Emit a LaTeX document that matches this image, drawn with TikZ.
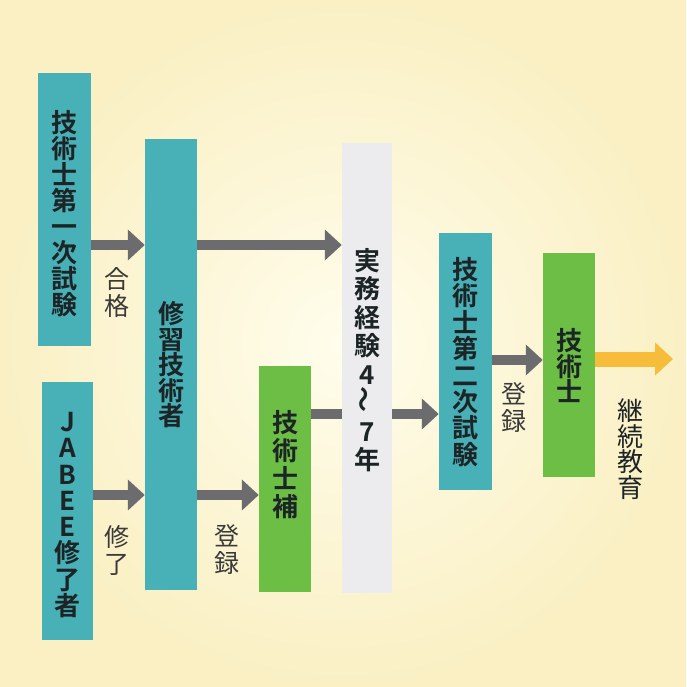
\documentclass[tikz,border=0pt]{standalone}
\usepackage{fontspec}
\usepackage{graphicx}
\newfontfamily\cjk{Noto Sans CJK JP}[BoldFont=* Bold]
\usetikzlibrary{arrows.meta}
\definecolor{tealbx}{RGB}{72,176,183}
\definecolor{greenbx}{RGB}{108,190,69}
\definecolor{graybx}{RGB}{236,236,238}
\definecolor{arrgray}{RGB}{108,108,110}
\definecolor{arryel}{RGB}{247,188,58}
\definecolor{boxink}{RGB}{28,36,38}
\definecolor{labink}{RGB}{58,58,58}
\definecolor{bgout}{RGB}{250,240,196}
\definecolor{bgin}{RGB}{255,253,236}
\begin{document}
\begin{tikzpicture}[x=1pt,y=-1pt,
  bx/.style={rectangle, inner sep=0pt, draw=none},
  tealb/.style={bx, fill=tealbx},
  greenb/.style={bx, fill=greenbx},
  grayb/.style={bx, fill=graybx},
  btext/.style={inner sep=0pt, align=center, text=boxink, font=\cjk\bfseries\fontsize{26}{#1}\selectfont},
  ltext/.style={inner sep=0pt, align=center, text=labink, font=\cjk\fontsize{25}{#1}\selectfont},
  garrow/.style={draw=arrgray, line width=10pt, -{Triangle[length=17pt,width=30pt]}},
  gline/.style={draw=arrgray, line width=10pt},
  yarrow/.style={draw=arryel, line width=15pt, -{Triangle[length=18pt,width=32pt]}}
]
\useasboundingbox (0,0) rectangle (686,687);
\shade[inner color=bgin, outer color=bgout] (0,0) rectangle (686,687);

% boxes
\node[tealb, minimum width=53pt, minimum height=273pt] (b1) at (64.5,209.5) {};
\node[tealb, minimum width=51pt, minimum height=258pt] (b2) at (67.5,511) {};
\node[tealb, minimum width=52pt, minimum height=451pt] (b3) at (171,364.5) {};
\node[greenb, minimum width=52pt, minimum height=226pt] (b4) at (285,479) {};
\node[grayb, minimum width=50pt, minimum height=450pt] (b5) at (367,368) {};
\node[tealb, minimum width=53pt, minimum height=257pt] (b6) at (465.5,361.5) {};
\node[greenb, minimum width=52pt, minimum height=224pt] (b7) at (569,365) {};

% box texts
\node[btext=26] (t1) at (64.5,214) {技\\術\\士\\第\\一\\次\\試\\験};
\node[btext=26.3] (t2) at (67.5,515) {J\\A\\B\\E\\E\\修\\了\\者};
\node[btext=25.5] (t3) at (171,365) {修\\習\\技\\術\\者};
\node[btext=28] (t4) at (285,465) {技\\術\\士\\補};
\node[btext=28.5] (t5) at (367,360) {実\\務\\経\\験\\4\\\rotatebox{90}{〜}\\7\\年};
\node[btext=26.4] (t6) at (465.5,362) {技\\術\\士\\第\\二\\次\\試\\験};
\node[btext=25.5] (t7) at (569,366) {技\\術\\士};

% connectors
\draw[garrow] (b1.east |- 0,245) -- (b3.west |- 0,245);
\draw[garrow] (b3.east |- 0,245) -- (b5.west |- 0,245);
\draw[garrow] (b2.east |- 0,495) -- (b3.west |- 0,495);
\draw[garrow] (b3.east |- 0,495) -- (b4.west |- 0,495);
\draw[gline] (b4.east |- 0,414) -- (b5.west |- 0,414);
\draw[garrow] (b5.east |- 0,414) -- (b6.west |- 0,414);
\draw[garrow] (b6.east |- 0,360) -- (b7.west |- 0,360);
\coordinate (yend) at (673,359);
\draw[yarrow] (b7.east |- yend) -- (yend);

% labels
\node[ltext=27] (l1) at (117,293) {合\\格};
\node[ltext=27] (l2) at (117,550) {修\\了};
\node[ltext=27] (l3) at (227,550) {登\\録};
\node[ltext=27] (l4) at (514,408) {登\\録};
\node[ltext=25, font=\cjk\fontsize{26}{25.5}\selectfont, text=boxink] (l5) at (630,449) {継\\続\\教\\育};
\end{tikzpicture}
\end{document}
